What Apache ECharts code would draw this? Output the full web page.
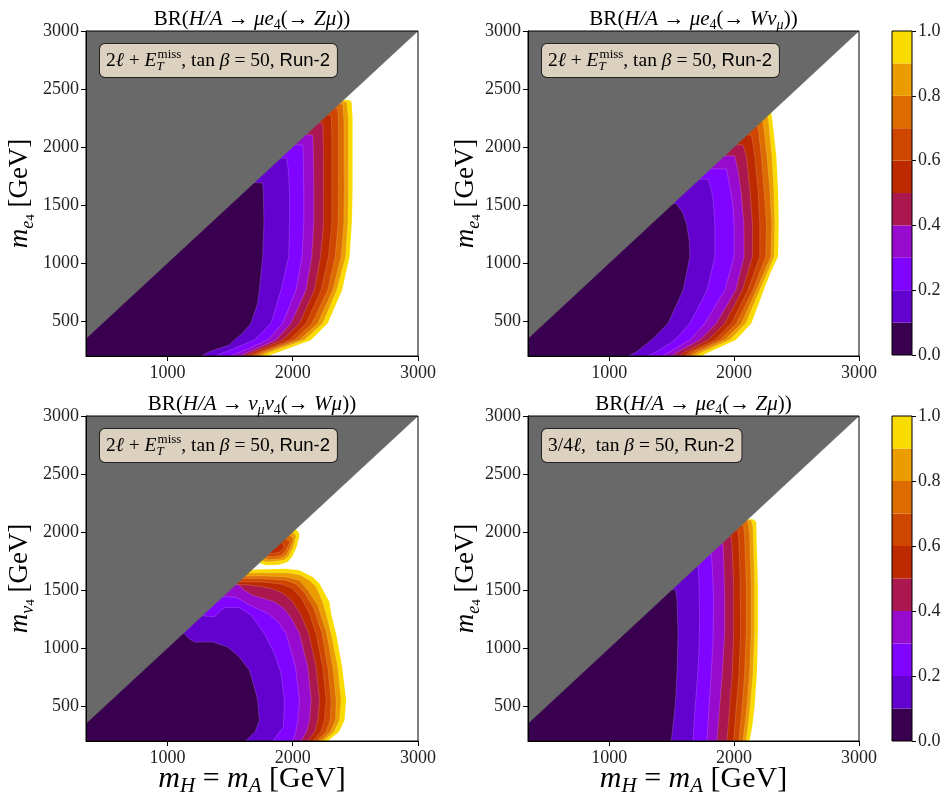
<!DOCTYPE html>
<html><head><meta charset="utf-8">
<script src="https://cdn.jsdelivr.net/npm/echarts@6/dist/echarts.min.js"></script>
<style>html,body{margin:0;padding:0;background:#fff}#c{width:944px;height:796px}</style>
</head><body><div id="c"></div>
<script>
// ---------------- axis ranges & ticks ----------------
const X_MIN = 350, X_MAX = 3000, Y_MIN = 200, Y_MAX = 3000;
const xTicks = [1000, 2000, 3000];
const yTicks = [500, 1000, 1500, 2000, 2500, 3000];
const cbTicks = [0, 0.2, 0.4, 0.6, 0.8, 1.0];
const levels = [0, 0.1, 0.2, 0.3, 0.4, 0.5, 0.6, 0.7, 0.8, 0.9, 1.0];
const bandColors = ['#39004f','#6301ce','#8004ff','#970bce','#ab174f','#bd2a00','#ce4600','#dd6c00','#eb9d00','#f9db00'];
// kinematically forbidden region (m_child > m_parent)
const grayRegion = [[350,350],[3000,3000],[350,3000]];

// ---------------- contour boundaries (BR = level), [mH, m4] ----------------
// Panel 1: BR(H/A -> mu e4 (-> Z mu)), 2l + MET
const p1_br01 = [[1267,200],[1334,237],[1494,295],[1534,338],[1600,396],[1667,482],[1720,654],[1734,769],[1760,1056],[1770,1343],[1765,1630],[1760,1690],[1690,1695]];
const p1_br02 = [[1380,200],[1467,237],[1694,338],[1827,482],[1907,769],[1968,1056],[1974,1343],[1974,1630],[1965,1800],[1952,1903],[1900,1905]];
const p1_br03 = [[1500,200],[1587,237],[1800,338],[1920,482],[2027,769],[2075,1056],[2088,1343],[2088,1630],[2085,1900],[2080,2018],[2015,2020]];
const p1_br04 = [[1580,200],[1654,237],[1867,338],[1987,482],[2107,769],[2152,1056],[2168,1343],[2168,1630],[2165,1950],[2160,2104],[2100,2106]];
const p1_br05 = [[1620,200],[1694,237],[1920,338],[2054,482],[2174,769],[2222,1056],[2246,1343],[2246,1630],[2245,2000],[2240,2205],[2200,2207]];
const p1_br06 = [[1660,200],[1734,237],[1974,338],[2107,482],[2227,769],[2286,1056],[2312,1343],[2312,1630],[2312,2100],[2307,2276],[2270,2278]];
const p1_br07 = [[1690,200],[1760,237],[2014,338],[2155,482],[2280,769],[2339,1056],[2363,1343],[2366,1630],[2366,2150],[2360,2334],[2330,2336]];
const p1_br08 = [[1720,200],[1792,237],[2054,338],[2200,482],[2320,769],[2387,1056],[2408,1343],[2413,1630],[2410,2200],[2400,2371],[2370,2373]];
const p1_br09 = [[1750,200],[1827,237],[2094,338],[2240,482],[2352,769],[2422,1056],[2440,1343],[2445,1630],[2445,2250],[2432,2391],[2400,2393]];
const p1_br10 = [[1800,200],[1894,237],[2147,338],[2280,482],[2395,769],[2454,1056],[2472,1343],[2478,1630],[2478,2250],[2470,2390],[2450,2405],[2400,2407]];

// Panel 2: BR(H/A -> mu e4 (-> W nu_mu)), 2l + MET
const p2_br01 = [[1152,200],[1219,237],[1339,338],[1472,482],[1592,769],[1646,1056],[1640,1200],[1619,1343],[1585,1440],[1539,1510],[1505,1512]];
const p2_br02 = [[1300,200],[1379,237],[1526,338],[1646,482],[1784,769],[1846,1056],[1846,1343],[1832,1540],[1819,1630],[1792,1722],[1715,1724]];
const p2_br03 = [[1420,200],[1486,237],[1646,338],[1766,482],[1926,769],[2000,1056],[2000,1343],[1990,1500],[1971,1630],[1939,1811],[1805,1813]];
const p2_br04 = [[1500,200],[1552,237],[1726,338],[1859,482],[2014,769],[2080,1056],[2078,1343],[2054,1630],[2030,1800],[2006,1923],[1920,1925]];
const p2_br05 = [[1560,200],[1606,237],[1792,338],[1926,482],[2067,769],[2147,1056],[2147,1343],[2126,1630],[2099,1917],[2072,2018],[2015,2020]];
const p2_br06 = [[1600,200],[1646,237],[1846,338],[1979,482],[2112,769],[2206,1056],[2206,1343],[2192,1630],[2166,1917],[2139,2104],[2100,2106]];
const p2_br07 = [[1630,200],[1678,237],[1886,338],[2019,482],[2152,769],[2254,1056],[2259,1343],[2240,1630],[2219,1917],[2192,2176],[2170,2178]];
const p2_br08 = [[1660,200],[1712,237],[1926,338],[2059,482],[2179,769],[2294,1056],[2302,1343],[2286,1630],[2264,1917],[2232,2219],[2215,2221]];
const p2_br09 = [[1690,200],[1752,237],[1966,338],[2094,482],[2206,769],[2320,1056],[2326,1343],[2318,1630],[2304,1917],[2272,2262],[2255,2264]];
const p2_br10 = [[1740,200],[1806,237],[2014,338],[2139,482],[2238,769],[2290,912],[2352,1056],[2358,1343],[2352,1630],[2339,1917],[2310,2200],[2299,2291],[2285,2293]];

// Panel 3: BR(H/A -> nu_mu nu4 (-> W mu)), 2l + MET
const p3_br01 = [[1622,200],[1700,280],[1734,378],[1720,551],[1694,665],[1654,809],[1574,924],[1480,1010],[1360,1053],[1214,1053],[1174,1082],[1134,1125],[1120,1128]];
const p3_br02 = [[1840,200],[1926,321],[1934,551],[1907,780],[1854,953],[1774,1125],[1667,1283],[1574,1349],[1454,1349],[1414,1312],[1374,1269],[1275,1280]];
const p3_br03 = [[2000,200],[2025,280],[2040,378],[2054,551],[2022,838],[1947,1125],[1880,1230],[1800,1300],[1720,1340],[1640,1380],[1580,1420],[1540,1440],[1435,1442]];
const p3_br04 = [[2067,200],[2110,280],[2134,378],[2147,551],[2120,838],[2054,1125],[1990,1260],[1920,1350],[1850,1400],[1760,1430],[1680,1455],[1610,1500],[1570,1545],[1540,1550]];
const p3_br05 = [[2120,200],[2175,280],[2200,378],[2214,551],[2187,838],[2128,1125],[2060,1300],[1990,1410],[1920,1475],[1840,1510],[1750,1530],[1640,1545],[1540,1547]];
const p3_br06 = [[2160,200],[2225,280],[2254,378],[2267,551],[2240,838],[2187,1125],[2130,1310],[2065,1440],[1995,1515],[1920,1550],[1760,1570],[1565,1572]];
const p3_br07 = [[2192,200],[2265,280],[2299,378],[2307,551],[2280,838],[2235,1125],[2170,1340],[2100,1470],[2030,1550],[1947,1585],[1760,1598],[1590,1600]];
const p3_br08 = [[2219,200],[2300,280],[2342,378],[2347,551],[2320,838],[2272,1125],[2200,1369],[2120,1500],[2054,1584],[1947,1613],[1760,1622],[1600,1620]];
const p3_br09 = [[2246,200],[2330,280],[2374,378],[2387,551],[2360,838],[2307,1125],[2267,1297],[2240,1398],[2187,1527],[2134,1584],[2054,1633],[1947,1650],[1760,1650],[1630,1648]];
const p3_br10 = [[2280,200],[2370,280],[2414,378],[2427,551],[2395,838],[2347,1125],[2307,1297],[2294,1398],[2214,1556],[2160,1613],[2054,1671],[1947,1685],[1760,1679],[1654,1675]];
// isolated island near the diagonal (closed curves)
const p3_isl10 = [[2014,2030],[2048,2001],[2054,1966],[2032,1872],[1995,1785],[1960,1742],[1894,1719],[1787,1714],[1747,1728],[1680,1800],[1894,2087]];
const p3_isl09 = [[1987,2015],[2027,1966],[2006,1872],[1968,1794],[1934,1762],[1867,1748],[1787,1742],[1747,1757],[1680,1830]];
const p3_isl08 = [[1960,1987],[2006,1943],[1979,1857],[1941,1794],[1894,1771],[1814,1762],[1766,1777],[1700,1840]];
const p3_isl07 = [[1934,1958],[1979,1915],[1947,1843],[1907,1800],[1840,1785],[1787,1794],[1720,1850]];
const p3_isl06 = [[1907,1915],[1934,1872],[1894,1829],[1840,1814],[1800,1823],[1760,1860]];

// Panel 4: BR(H/A -> mu e4 (-> Z mu)), 3/4 l
const p4_br01 = [[1497,200],[1516,378],[1532,551],[1545,838],[1551,1125],[1543,1412],[1532,1504],[1500,1506]];
const p4_br02 = [[1671,200],[1684,436],[1703,694],[1719,981],[1724,1269],[1719,1556],[1711,1714],[1700,1716]];
const p4_br03 = [[1783,200],[1799,493],[1817,780],[1831,1067],[1836,1412],[1825,1699],[1817,1814],[1800,1816]];
const p4_br04 = [[1863,200],[1884,493],[1905,780],[1924,1125],[1924,1470],[1916,1785],[1911,1900],[1890,1902]];
const p4_br05 = [[1943,200],[1964,493],[1985,780],[1996,1125],[1996,1556],[1985,1843],[1977,1958],[1950,1960]];
const p4_br06 = [[1996,200],[2017,493],[2039,780],[2052,1125],[2049,1556],[2039,1900],[2031,2015],[2000,2017]];
const p4_br07 = [[2039,200],[2065,493],[2084,780],[2097,1125],[2097,1556],[2084,1958],[2076,2058],[2050,2060]];
const p4_br08 = [[2071,200],[2103,493],[2124,780],[2137,1125],[2137,1556],[2124,1986],[2111,2096],[2090,2098]];
const p4_br09 = [[2097,200],[2129,493],[2151,780],[2164,1125],[2164,1556],[2151,2044],[2137,2104],[2100,2106]];
const p4_br10 = [[2124,200],[2145,321],[2164,493],[2183,780],[2191,1125],[2191,1556],[2183,1843],[2177,2087],[2156,2110],[2105,2112]];

// ---------------- texts ----------------
const titles = [
  '{r|BR(}{i|H/A}{r| → }{i|μe}{s|4}{r|(→ }{i|Zμ}{r|))}',
  '{r|BR(}{i|H/A}{r| → }{i|μe}{s|4}{r|(→ }{i|Wν}{si|μ}{r|))}',
  '{r|BR(}{i|H/A}{r| → }{i|ν}{si|μ}{i|ν}{s|4}{r|(→ }{i|Wμ}{r|))}',
  '{r|BR(}{i|H/A}{r| → }{i|μe}{s|4}{r|(→ }{i|Zμ}{r|))}'
];
const notes = [
  '{a|2}{ai|ℓ}{a| + }{ai|E}{asub|T}{asup|miss}{a|, tan }{ai|β}{a| = 50, }{sf|Run-2}',
  '{a|2}{ai|ℓ}{a| + }{ai|E}{asub|T}{asup|miss}{a|, tan }{ai|β}{a| = 50, }{sf|Run-2}',
  '{a|2}{ai|ℓ}{a| + }{ai|E}{asub|T}{asup|miss}{a|, tan }{ai|β}{a| = 50, }{sf|Run-2}',
  '{a|3/4}{ai|ℓ}{a|,  tan }{ai|β}{a| = 50, }{sf|Run-2}'
];
const yNames = [
  '{yi|m}{ys|e}{yss|4}{yr| [GeV]}',
  '{yi|m}{ys|e}{yss|4}{yr| [GeV]}',
  '{yi|m}{ys|ν}{yss|4}{yr| [GeV]}',
  '{yi|m}{ys|e}{yss|4}{yr| [GeV]}'
];
const xName = '{xi|m}{xs|H}{xr| = }{xi|m}{xs|A}{xr| [GeV]}';

// ---------------- build ----------------
const SERIF = 'Liberation Serif';
const SANS = 'Liberation Sans';
const panelBounds = [
  [p1_br01,p1_br02,p1_br03,p1_br04,p1_br05,p1_br06,p1_br07,p1_br08,p1_br09,p1_br10],
  [p2_br01,p2_br02,p2_br03,p2_br04,p2_br05,p2_br06,p2_br07,p2_br08,p2_br09,p2_br10],
  [p3_br01,p3_br02,p3_br03,p3_br04,p3_br05,p3_br06,p3_br07,p3_br08,p3_br09,p3_br10],
  [p4_br01,p4_br02,p4_br03,p4_br04,p4_br05,p4_br06,p4_br07,p4_br08,p4_br09,p4_br10]
];
const panelIslands = [[],[],[[p3_isl10,9],[p3_isl09,8],[p3_isl08,7],[p3_isl07,6],[p3_isl06,5]],[]];

const gridBoxes = [
  {left:86, top:31, width:332, height:325},
  {left:528, top:31, width:331, height:325},
  {left:86, top:416, width:332, height:325},
  {left:528, top:416, width:331, height:325},
  {left:892, top:31, width:20, height:324},
  {left:892, top:416, width:20, height:325}
];

const grid = gridBoxes.map(g => Object.assign({show:true, borderColor:'#000', borderWidth:1, backgroundColor:'transparent', z:20, containLabel:false, outerBoundsMode:'none'}, g));

const xAxis = [], yAxis = [], series = [];
for (let i = 0; i < 4; i++) {
  xAxis.push({gridIndex:i, type:'value', min:X_MIN, max:X_MAX, z:20,
    axisLine:{show:true, onZero:false, lineStyle:{color:'#000', width:1}},
    axisTick:{show:true, length:5, customValues:xTicks, lineStyle:{color:'#000'}},
    axisLabel:{customValues:xTicks, formatter:v=>String(v), fontFamily:SERIF, fontSize:18, color:'#222', margin:8},
    splitLine:{show:false}});
  yAxis.push({gridIndex:i, type:'value', min:Y_MIN, max:Y_MAX, z:20,
    axisLine:{show:true, onZero:false, lineStyle:{color:'#000', width:1}},
    axisTick:{show:true, length:5, customValues:yTicks, lineStyle:{color:'#000'}},
    axisLabel:{customValues:yTicks, formatter:v=>String(v), fontFamily:SERIF, fontSize:18, color:'#222', margin:7},
    splitLine:{show:false}});

  const polys = [];
  const b = panelBounds[i];
  for (let k = 9; k >= 0; k--) {
    polys.push({pts: [[X_MIN, Y_MIN]].concat(b[k], [[X_MIN, Y_MAX]]), color: bandColors[k]});
  }
  panelIslands[i].forEach(([pts, ci]) => polys.push({pts: pts, color: bandColors[ci]}));
  series.push({type:'custom', xAxisIndex:i, yAxisIndex:i, clip:true, silent:true, z:2,
    data: polys.map(p => p.pts[1]),
    renderItem: (params, api) => {
      const it = polys[params.dataIndex];
      return {type:'polygon', shape:{points: it.pts.map(p => api.coord(p))},
        style:{fill: it.color, stroke: 'rgba(255,255,255,0.28)', lineWidth: 0.6}};
    }});
  series.push({type:'custom', xAxisIndex:i, yAxisIndex:i, clip:true, silent:true, z:3,
    data:[grayRegion[0]],
    renderItem: (params, api) => ({type:'polygon', shape:{points: grayRegion.map(p => api.coord(p))},
      style:{fill:'#696969', stroke:'#696969', lineWidth:0.5}})});
}
// colorbars
for (let c = 0; c < 2; c++) {
  const gi = 4 + c;
  xAxis.push({gridIndex:gi, type:'category', data:['BR'], show:false, boundaryGap:true});
  yAxis.push({gridIndex:gi, type:'value', min:0, max:1, position:'right', z:20,
    axisLine:{show:false},
    axisTick:{show:true, length:4, customValues:cbTicks, lineStyle:{color:'#000'}},
    axisLabel:{customValues:cbTicks, formatter:v=>v.toFixed(1), fontFamily:SERIF, fontSize:18, color:'#222', margin:6},
    splitLine:{show:false}});
  for (let k = 0; k < 10; k++) {
    series.push({type:'bar', xAxisIndex:gi, yAxisIndex:gi, stack:'cb'+c, barWidth:'100%', silent:true,
      data:[levels[k+1] - levels[k]], itemStyle:{color:bandColors[k]}});
  }
}

const titleRich = {
  r:{fontFamily:SERIF, fontSize:21, lineHeight:26, fill:'#000', color:'#000'},
  i:{fontFamily:SERIF, fontStyle:'italic', fontSize:21, lineHeight:26, fill:'#000', color:'#000'},
  s:{fontFamily:SERIF, fontSize:14, lineHeight:15, verticalAlign:'bottom', fill:'#000', color:'#000'},
  si:{fontFamily:SERIF, fontStyle:'italic', fontSize:14, lineHeight:15, verticalAlign:'bottom', fill:'#000', color:'#000'}
};
const noteRich = {
  a:{fontFamily:SERIF, fontSize:19.5, lineHeight:25, fill:'#000', color:'#000'},
  ai:{fontFamily:SERIF, fontStyle:'italic', fontSize:19.5, lineHeight:25, fill:'#000', color:'#000'},
  asub:{fontFamily:SERIF, fontStyle:'italic', fontSize:13, lineHeight:11, verticalAlign:'bottom', width:1, fill:'#000', color:'#000'},
  asup:{fontFamily:SERIF, fontSize:13, lineHeight:14, verticalAlign:'top', fill:'#000', color:'#000'},
  sf:{fontFamily:SANS, fontSize:18.5, lineHeight:25, fill:'#000', color:'#000'}
};
const axRich = {
  yi:{fontFamily:SERIF, fontStyle:'italic', fontSize:27, lineHeight:34, fill:'#000', color:'#000'},
  yr:{fontFamily:SERIF, fontSize:27, lineHeight:34, fill:'#000', color:'#000'},
  ys:{fontFamily:SERIF, fontStyle:'italic', fontSize:18, lineHeight:14, verticalAlign:'bottom', fill:'#000', color:'#000'},
  yss:{fontFamily:SERIF, fontSize:13, lineHeight:8, verticalAlign:'bottom', fill:'#000', color:'#000'},
  xi:{fontFamily:SERIF, fontStyle:'italic', fontSize:30, lineHeight:36, fill:'#000', color:'#000'},
  xr:{fontFamily:SERIF, fontSize:30, lineHeight:36, fill:'#000', color:'#000'},
  xs:{fontFamily:SERIF, fontStyle:'italic', fontSize:21, lineHeight:17, verticalAlign:'bottom', fill:'#000', color:'#000'}
};

const graphic = [];
for (let i = 0; i < 4; i++) {
  const g = gridBoxes[i];
  graphic.push({type:'text', x: g.left + g.width/2, y: g.top - 12, silent:true, z:50,
    style:{text: titles[i], rich: titleRich, align:'center', verticalAlign:'middle', textAlign:'center', textVerticalAlign:'middle'}});
  graphic.push({type:'text', x: g.left + 14, y: g.top + 13, silent:true, z:50,
    style:{text: notes[i], rich: noteRich, align:'left', verticalAlign:'top', textAlign:'left', textVerticalAlign:'top',
      backgroundColor:'#dcd0bf', borderColor:'#222', borderWidth:1, borderRadius:5, padding:[4,7,4,6]}});
  graphic.push({type:'text', x: (i % 2 === 0) ? 20 : 466, y: g.top + g.height/2, rotation: Math.PI/2, silent:true, z:50,
    style:{text: yNames[i], rich: axRich, align:'center', verticalAlign:'middle', textAlign:'center', textVerticalAlign:'middle'}});
}
for (let i = 2; i < 4; i++) {
  const g = gridBoxes[i];
  graphic.push({type:'text', x: g.left + g.width/2, y: 779, silent:true, z:50,
    style:{text: xName, rich: axRich, align:'center', verticalAlign:'middle', textAlign:'center', textVerticalAlign:'middle'}});
}

const chart = echarts.init(document.getElementById('c'), null, {renderer:'canvas'});
chart.setOption({animation:false, backgroundColor:'#fff', grid, xAxis, yAxis, series, graphic});
</script></body></html>
